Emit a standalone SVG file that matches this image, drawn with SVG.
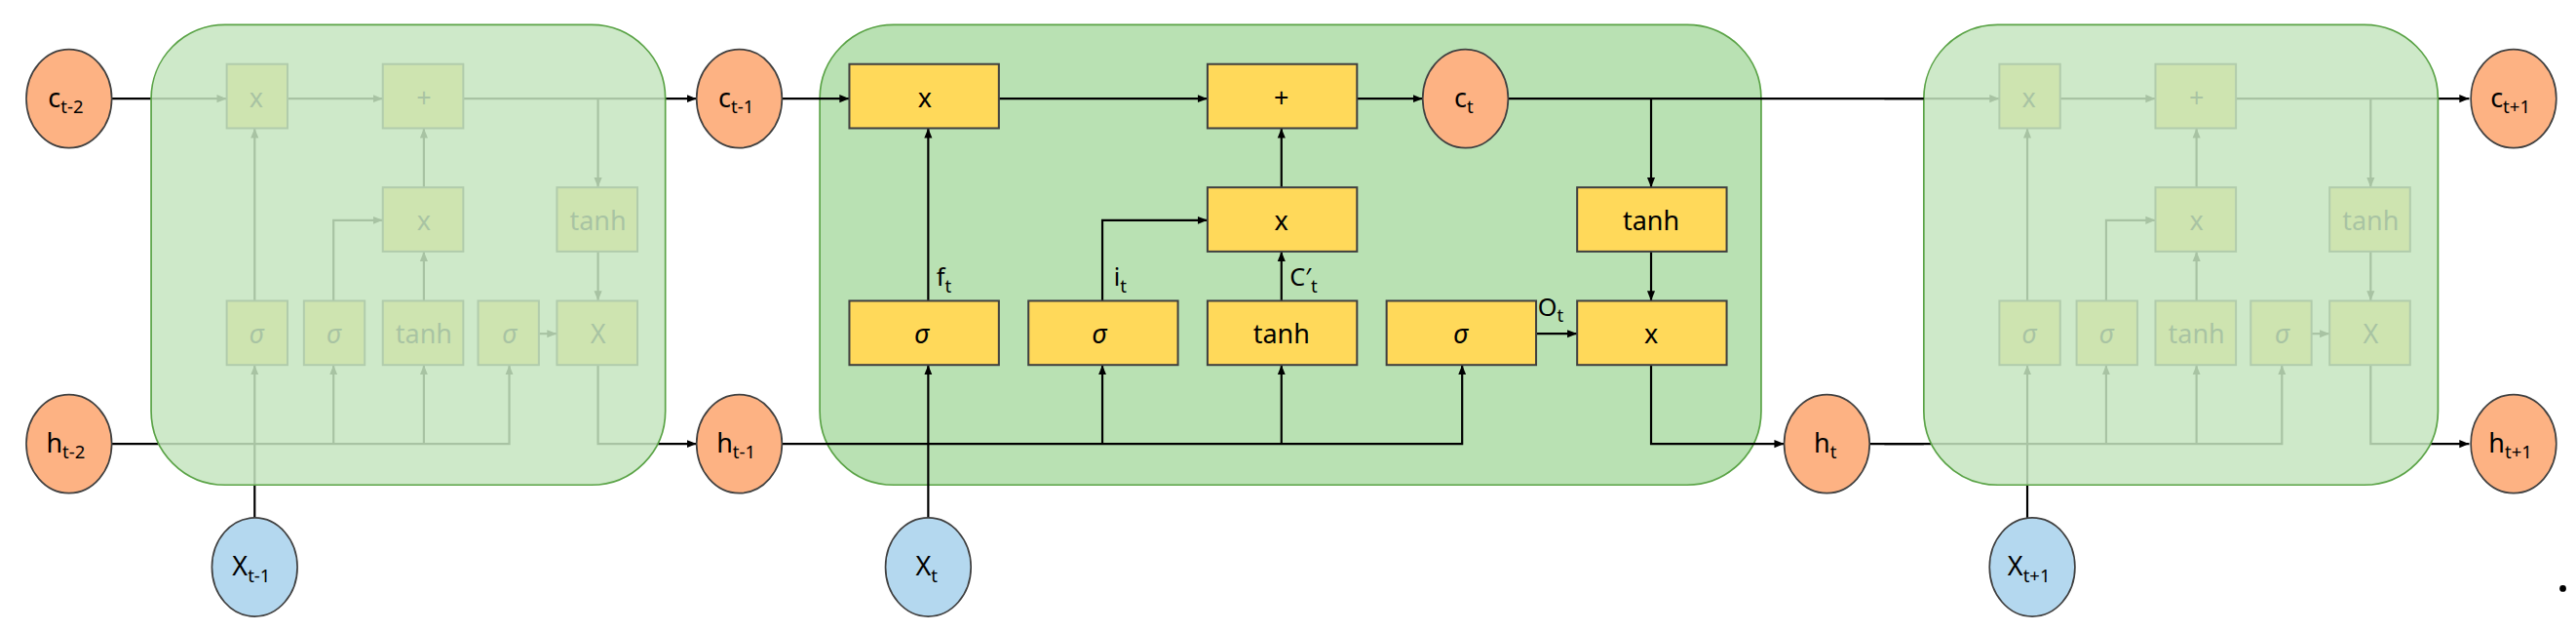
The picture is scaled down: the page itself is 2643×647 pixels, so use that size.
<svg xmlns="http://www.w3.org/2000/svg" width="2643" height="647" viewBox="0 0 2643 647">
<style>
.ln{stroke:#000;stroke-width:1.3;fill:none}
.box{fill:#ffd95a;stroke:#404040;stroke-width:1.2}
.oc{fill:#fdb283;stroke:#404040;stroke-width:1}
.bc{fill:#b4d8ef;stroke:#404040;stroke-width:1}
.t{font-family:"Noto Sans","DejaVu Sans",sans-serif;font-size:16px;fill:#000;text-anchor:middle}
.s{font-size:11px}
.lb{font-family:"Noto Sans","DejaVu Sans",sans-serif;font-size:15px;fill:#000}
.fade{fill:#c5e5c0;fill-opacity:0.85;stroke:#5aa346;stroke-width:1}
</style>
<defs>
<marker id="a" viewBox="0 0 10 10" refX="10" refY="5" markerWidth="6" markerHeight="6" orient="auto-start-reverse" markerUnits="userSpaceOnUse"><path d="M0,1 L10,5 L0,9 z" fill="#000"/></marker>
<g id="inner">
<path class="ln" d="M68,60 H138" marker-end="url(#a)"/>
<path class="ln" d="M175,60 H233" marker-end="url(#a)"/>
<path class="ln" d="M282,60 H424" marker-end="url(#a)"/>
<path class="ln" d="M364,60 V114" marker-end="url(#a)"/>
<path class="ln" d="M364,153 V183" marker-end="url(#a)"/>
<path class="ln" d="M364,222 V270 H424" marker-end="url(#a)"/>
<path class="ln" d="M68,270 H310 V222" marker-end="url(#a)"/>
<path class="ln" d="M203,270 V222" marker-end="url(#a)"/>
<path class="ln" d="M258,270 V222" marker-end="url(#a)"/>
<path class="ln" d="M155,315 V222" marker-end="url(#a)"/>
<path class="ln" d="M155,183 V78" marker-end="url(#a)"/>
<path class="ln" d="M203,183 V134 H233" marker-end="url(#a)"/>
<path class="ln" d="M258,183 V153" marker-end="url(#a)"/>
<path class="ln" d="M258,114 V78" marker-end="url(#a)"/>
<path class="ln" d="M328,203 H339" marker-end="url(#a)"/>
<rect class="box" x="138" y="39" width="37" height="39"/><text class="t" x="156" y="65">x</text>
<rect class="box" x="233" y="39" width="49" height="39"/><text class="t" x="258" y="65">+</text>
<rect class="box" x="233" y="114" width="49" height="39"/><text class="t" x="258" y="140">x</text>
<rect class="box" x="339" y="114" width="49" height="39"/><text class="t" x="364" y="140">tanh</text>
<rect class="box" x="138" y="183" width="37" height="39"/><text class="t" x="156" y="209" font-style="italic">σ</text>
<rect class="box" x="185" y="183" width="37" height="39"/><text class="t" x="203" y="209" font-style="italic">σ</text>
<rect class="box" x="233" y="183" width="49" height="39"/><text class="t" x="258" y="209">tanh</text>
<rect class="box" x="291" y="183" width="37" height="39"/><text class="t" x="310" y="209" font-style="italic">σ</text>
<rect class="box" x="339" y="183" width="49" height="39"/><text class="t" x="364" y="209">X</text>
</g>
</defs>
<g transform="scale(1.6856)">
<g id="connectors">
<use href="#inner"/>
<use href="#inner" transform="translate(1079,0)"/>
</g>
<g id="cell-left"><rect class="fade" x="92" y="15" width="313" height="280" rx="45"/></g>
<g id="cell-right"><rect class="fade" x="1171" y="15" width="313" height="280" rx="45"/></g>
<g id="cell-mid"><rect x="499" y="15" width="573" height="280" rx="45" fill="#b9e1b3" stroke="#5aa346" stroke-width="1"/></g>
<g id="connectors-mid">
<path class="ln" d="M476,60 H517" marker-end="url(#a)"/>
<path class="ln" d="M608,60 H735" marker-end="url(#a)"/>
<path class="ln" d="M826,60 H866" marker-end="url(#a)"/>
<path class="ln" d="M918,60 H1171"/>
<path class="ln" d="M1005,60 V114" marker-end="url(#a)"/>
<path class="ln" d="M1005,153 V183" marker-end="url(#a)"/>
<path class="ln" d="M1005,222 V270 H1086" marker-end="url(#a)"/>
<path class="ln" d="M476,270 H890 V222" marker-end="url(#a)"/>
<path class="ln" d="M671,270 V222" marker-end="url(#a)"/>
<path class="ln" d="M780,270 V222" marker-end="url(#a)"/>
<path class="ln" d="M565,315 V222" marker-end="url(#a)"/>
<path class="ln" d="M565,183 V78" marker-end="url(#a)"/>
<path class="ln" d="M671,183 V134 H735" marker-end="url(#a)"/>
<path class="ln" d="M780,183 V153" marker-end="url(#a)"/>
<path class="ln" d="M780,114 V78" marker-end="url(#a)"/>
<path class="ln" d="M935,203 H960" marker-end="url(#a)"/>
<path class="ln" d="M1138,270 H1171"/>
</g>
<g id="boxes-mid">
<g id="mult1"><rect class="box" x="517" y="39" width="91" height="39"/><text class="t" x="563" y="65">x</text></g>
<g id="plus"><rect class="box" x="735" y="39" width="91" height="39"/><text class="t" x="780" y="65">+</text></g>
<g id="mult2"><rect class="box" x="735" y="114" width="91" height="39"/><text class="t" x="780" y="140">x</text></g>
<g id="tanh2"><rect class="box" x="960" y="114" width="91" height="39"/><text class="t" x="1005" y="140">tanh</text></g>
<g id="sig1"><rect class="box" x="517" y="183" width="91" height="39"/><text class="t" x="561" y="209" font-style="italic">σ</text></g>
<g id="sig2"><rect class="box" x="626" y="183" width="91" height="39"/><text class="t" x="669" y="209" font-style="italic">σ</text></g>
<g id="tanh1"><rect class="box" x="735" y="183" width="91" height="39"/><text class="t" x="780" y="209">tanh</text></g>
<g id="sig3"><rect class="box" x="844" y="183" width="91" height="39"/><text class="t" x="889" y="209" font-style="italic">σ</text></g>
<g id="mult3"><rect class="box" x="960" y="183" width="91" height="39"/><text class="t" x="1005" y="209">x</text></g>
<text class="lb" x="570" y="174">f<tspan class="s" dy="4">t</tspan></text>
<text class="lb" x="678" y="174">i<tspan class="s" dy="4">t</tspan></text>
<text class="lb" x="785" y="174">C′<tspan class="s" dy="4">t</tspan></text>
<text class="lb" x="936" y="192">O<tspan class="s" dy="4">t</tspan></text>
</g>
<g id="c-t2"><ellipse class="oc" cx="42" cy="60" rx="26" ry="30"/><text class="t" x="40" y="65">c<tspan class="s" dy="4">t-2</tspan></text></g>
<g id="h-t2"><ellipse class="oc" cx="42" cy="270" rx="26" ry="30"/><text class="t" x="40" y="275">h<tspan class="s" dy="4">t-2</tspan></text></g>
<g id="c-t1"><ellipse class="oc" cx="450" cy="60" rx="26" ry="30"/><text class="t" x="448" y="65">c<tspan class="s" dy="4">t-1</tspan></text></g>
<g id="h-t1"><ellipse class="oc" cx="450" cy="270" rx="26" ry="30"/><text class="t" x="448" y="275">h<tspan class="s" dy="4">t-1</tspan></text></g>
<g id="c-t"><ellipse class="oc" cx="892" cy="60" rx="26" ry="30"/><text class="t" x="891" y="65">c<tspan class="s" dy="4">t</tspan></text></g>
<g id="h-t"><ellipse class="oc" cx="1112" cy="270" rx="26" ry="30"/><text class="t" x="1111" y="275">h<tspan class="s" dy="4">t</tspan></text></g>
<g id="c-t+1"><ellipse class="oc" cx="1530" cy="60" rx="26" ry="30"/><text class="t" x="1528" y="65">c<tspan class="s" dy="4">t+1</tspan></text></g>
<g id="h-t+1"><ellipse class="oc" cx="1530" cy="270" rx="26" ry="30"/><text class="t" x="1528" y="275">h<tspan class="s" dy="4">t+1</tspan></text></g>
<g id="x-t1"><ellipse class="bc" cx="155" cy="345" rx="26" ry="30"/><text class="t" x="153" y="350">X<tspan class="s" dy="4">t-1</tspan></text></g>
<g id="x-t"><ellipse class="bc" cx="565" cy="345" rx="26" ry="30"/><text class="t" x="564" y="350">X<tspan class="s" dy="4">t</tspan></text></g>
<g id="x-t+1"><ellipse class="bc" cx="1237" cy="345" rx="26" ry="30"/><text class="t" x="1235" y="350">X<tspan class="s" dy="4">t+1</tspan></text></g>
<circle cx="1560" cy="358" r="2" fill="#000"/>
</g>
</svg>
